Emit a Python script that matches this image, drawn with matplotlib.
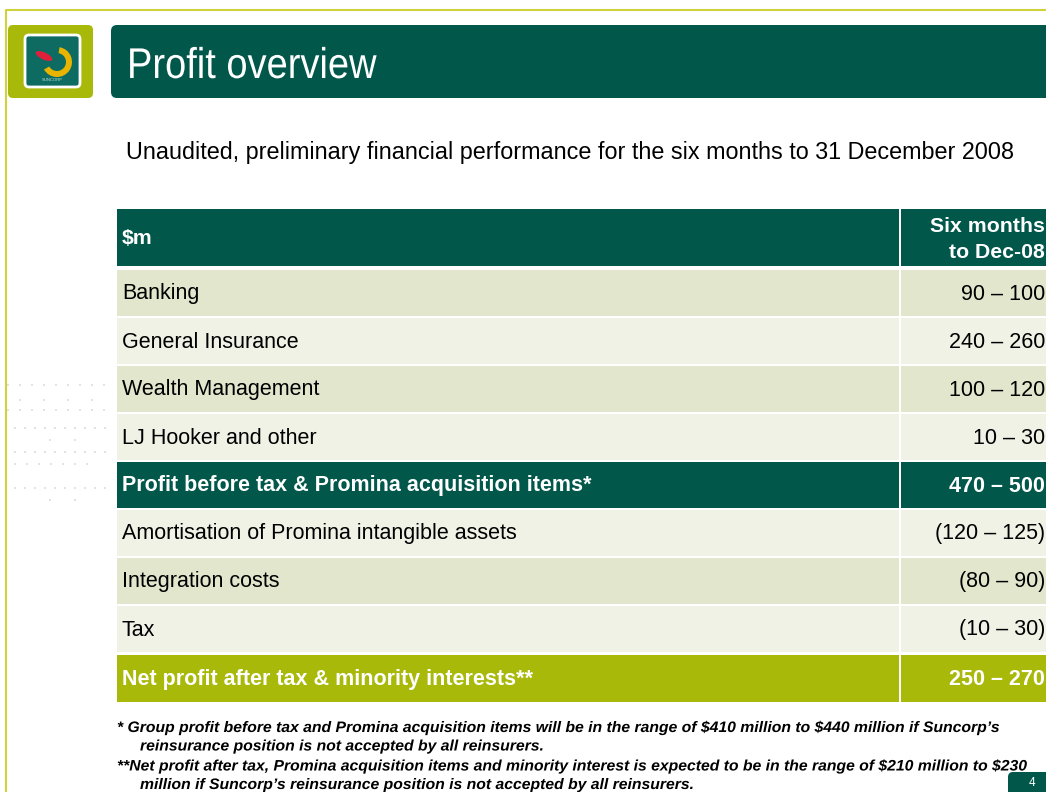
import matplotlib
matplotlib.use("Agg")
import matplotlib.pyplot as plt
from matplotlib.patches import Rectangle, FancyBboxPatch, PathPatch, Wedge, Ellipse
from matplotlib.textpath import TextPath
from matplotlib.font_manager import FontProperties
from matplotlib.transforms import Affine2D

plt.rcParams['text.parse_math'] = False

# ---- content ----
title = "Profit overview"
subtitle = "Unaudited, preliminary financial performance for the six months to 31 December 2008"
header_left = "$m"
header_right = ["Six months", "to Dec-08"]

row_labels = ["Banking", "General Insurance", "Wealth Management", "LJ Hooker and other",
              "Profit before tax & Promina acquisition items*",
              "Amortisation of Promina intangible assets", "Integration costs", "Tax",
              "Net profit after tax & minority interests**"]
row_values = ["90 \u2013 100", "240 \u2013 260", "100 \u2013 120", "10 \u2013 30",
              "470 \u2013 500", "(120 \u2013 125)", "(80 \u2013 90)", "(10 \u2013 30)",
              "250 \u2013 270"]
row_kind = ["dark", "light", "dark", "light", "total", "light", "dark", "light", "net"]

footnotes = [
    ("* Group profit before tax and Promina acquisition items will be in the range of $410 million to $440 million if Suncorp\u2019s",
     "reinsurance position is not accepted by all reinsurers."),
    ("**Net profit after tax, Promina acquisition items and minority interest is expected to be in the range of $210 million to $230",
     "million if Suncorp\u2019s reinsurance position is not accepted by all reinsurers."),
]
page_no = "4"

# ---- styles ----
GREEN = "#00574a"
OLIVE = "#a8b90a"
FILL = {"dark": "#e1e6cd", "light": "#f0f2e6", "total": GREEN, "net": OLIVE}
FONT = ["Liberation Sans", "DejaVu Sans"]

W, H = 1046, 792
fig = plt.figure(figsize=(W / 100, H / 100), dpi=100)
ax = fig.add_axes([0, 0, 1, 1])
ax.set_xlim(0, W)
ax.set_ylim(H, 0)
ax.axis("off")


def narrow_text(x, y, s, size, sx, color="black", weight="normal", style="normal"):
    # text drawn as a path so it can be squeezed; (x, y) is the baseline start in pixels
    fp = FontProperties(family="Liberation Sans", weight=weight, style=style)
    tp = TextPath((0, 0), s, size=size, prop=fp)
    tr = Affine2D().scale(sx, -1).translate(x, y)
    ax.add_patch(PathPatch(tr.transform_path(tp), fc=color, ec="none", lw=0))


# slide border
ax.plot([6, 6, W], [H, 10, 10], color="#cfd23a", lw=1.5)

# faint dot decoration on the left
for yy, xs in [(385, range(8, 110, 12)), (400, range(20, 100, 24)), (410, range(8, 110, 12)),
               (428, range(15, 110, 10)), (440, range(50, 80, 25)), (452, range(15, 110, 10)),
               (464, range(15, 90, 12)), (488, range(15, 110, 10)), (500, range(50, 80, 25))]:
    ax.scatter(list(xs), [yy] * len(xs), s=2, color="#e2e2e2", marker="s", lw=0)

# logo block
ax.add_patch(FancyBboxPatch((8, 25), 85, 73, boxstyle="round,pad=0,rounding_size=5",
                            fc=OLIVE, ec="none"))
ax.add_patch(FancyBboxPatch((25, 35), 55, 52, boxstyle="round,pad=0,rounding_size=4",
                            fc="#0e6b62", ec="white", lw=2))
ax.add_patch(Wedge((57, 62), 15, -80, 150, width=6, fc="#e8b400", ec="none"))
ax.add_patch(Ellipse((44, 56), 18, 7, angle=25, fc="#e0203a", ec="none"))
ax.text(52, 80, "SUNCORP", fontsize=3, color="#bfe3dc", ha="center", va="center", family=FONT)

# title bar
ax.add_patch(FancyBboxPatch((111, 25), W - 100, 73, boxstyle="round,pad=0,rounding_size=6",
                            fc=GREEN, ec="none"))
narrow_text(127, 78, title, 43, 0.885, color="white")

ax.text(126, 153, subtitle, fontsize=16.8, color="black", va="center", ha="left", family=FONT)

# table
x0, xdiv, x1 = 117, 900, W + 5
gap = 2
ax.add_patch(Rectangle((x0, 209), xdiv - gap / 2 - x0, 57, fc=GREEN, ec="none"))
ax.add_patch(Rectangle((xdiv + gap / 2, 209), x1 - xdiv, 57, fc=GREEN, ec="none"))
ax.text(122, 239, header_left, fontsize=15.3, color="white", weight="bold", va="center", family=FONT)
for k, line in enumerate(header_right):
    ax.text(1045, 226 + 26 * k, line, fontsize=15.3, color="white", weight="bold",
            va="center", ha="right", family=FONT)

row_top = 270
row_h = 48
for i, (lab, val, kind) in enumerate(zip(row_labels, row_values, row_kind)):
    top = row_top + i * row_h
    hh = row_h - 2
    if kind == "net":
        top += 1
        hh += 1
    fc = FILL[kind]
    ax.add_patch(Rectangle((x0, top), xdiv - gap / 2 - x0, hh, fc=fc, ec="none"))
    ax.add_patch(Rectangle((xdiv + gap / 2, top), x1 - xdiv, hh, fc=fc, ec="none"))
    bold = kind in ("total", "net")
    col = "white" if bold else "black"
    ax.text(122, top + hh / 2 + 1, lab, fontsize=15.5, color=col, va="center", ha="left",
            weight="bold" if bold else "normal", family=FONT)
    ax.text(1045, top + hh / 2 + 1, val, fontsize=15.5, color=col, va="center", ha="right",
            weight="bold" if bold else "normal", family=FONT)

# footnotes
fy = 732
for first, second in footnotes:
    narrow_text(117, fy, first, 15.2, 1.035, weight="bold", style="italic")
    narrow_text(140, fy + 18.5, second, 15.2, 1.035, weight="bold", style="italic")
    fy += 38.5

# page number
ax.add_patch(FancyBboxPatch((1008, 772), 50, 30, boxstyle="round,pad=0,rounding_size=5",
                            fc=GREEN, ec="none"))
ax.text(1032, 783, page_no, fontsize=8.5, color="white", ha="center", va="center", family=FONT)

fig.savefig("out.png", dpi=100)
